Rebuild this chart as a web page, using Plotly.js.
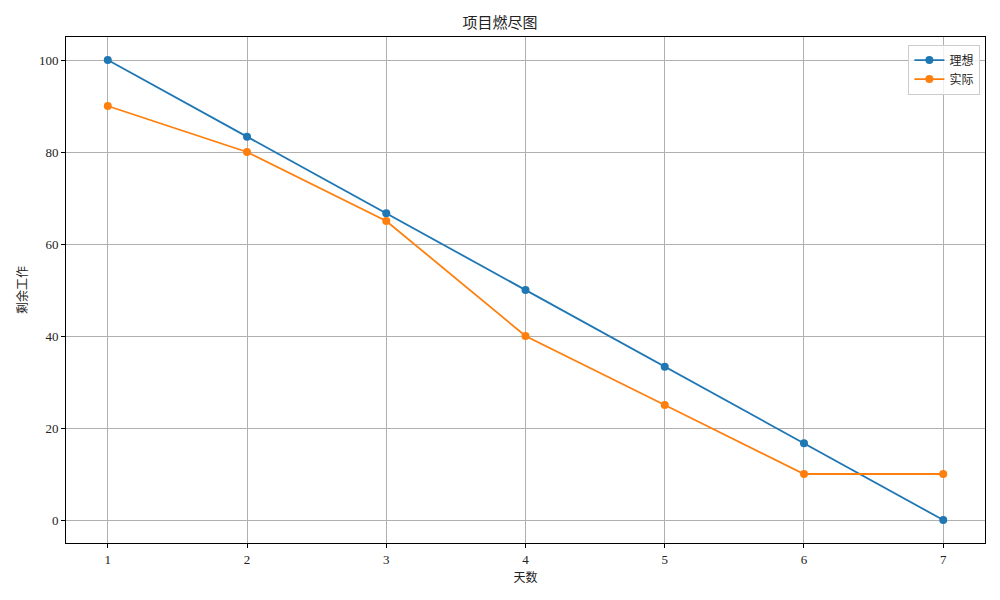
<!DOCTYPE html>
<html><head><meta charset="utf-8">
<script src="https://cdn.plot.ly/plotly-3.0.1.min.js"></script>
<style>body{margin:0}#c{width:1000px;height:600px}</style>
</head><body><div id="c"></div>
<script>
const days = [1, 2, 3, 4, 5, 6, 7];
const ideal = [100, 83.33, 66.67, 50, 33.33, 16.67, 0];
const actual = [90, 80, 65, 40, 25, 10, 10];
const names = ['理想', '实际'];
const FONT = '"Liberation Serif", "Noto Sans CJK SC", serif';
const CJK = '"Noto Sans CJK SC", "Liberation Serif", serif';
const traces = [
  {x: days, y: ideal, name: names[0], mode: 'lines+markers', line: {color: '#1f77b4', width: 1.8}, marker: {color: '#1f77b4', size: 8}},
  {x: days, y: actual, name: names[1], mode: 'lines+markers', line: {color: '#ff7f0e', width: 1.8}, marker: {color: '#ff7f0e', size: 8}}
];
const axisCommon = {showline: true, linecolor: '#000', linewidth: 1, mirror: true, ticks: 'outside', ticklen: 4, tickcolor: '#000',
  showgrid: true, gridcolor: '#b0b0b0', gridwidth: 1, zeroline: false, tickfont: {family: FONT, size: 13, color: '#222'}};
const layout = {
  width: 1000, height: 600,
  margin: {l: 66, r: 15, t: 37, b: 57},
  paper_bgcolor: '#fff', plot_bgcolor: '#fff',
  title: {text: '项目燃尽图', font: {family: CJK, size: 15, color: '#222'}, x: 0.5, xanchor: 'center', y: 0.962, yanchor: 'middle'},
  xaxis: Object.assign({}, axisCommon, {range: [0.7, 7.3], tickvals: days, title: {text: '天数', font: {family: CJK, size: 12, color: '#222'}, standoff: 8}}),
  yaxis: Object.assign({}, axisCommon, {range: [-5, 105], tickvals: [0, 20, 40, 60, 80, 100], title: {text: '剩余工作', font: {family: CJK, size: 12, color: '#222'}, standoff: 8}}),
  legend: {x: 0.995, y: 0.985, xanchor: 'right', yanchor: 'top', bordercolor: '#ccc', borderwidth: 1, bgcolor: 'rgba(255,255,255,0.8)',
    font: {family: CJK, size: 12, color: '#222'}},
  showlegend: true
};
Plotly.newPlot('c', traces, layout, {displayModeBar: false});
</script></body></html>
